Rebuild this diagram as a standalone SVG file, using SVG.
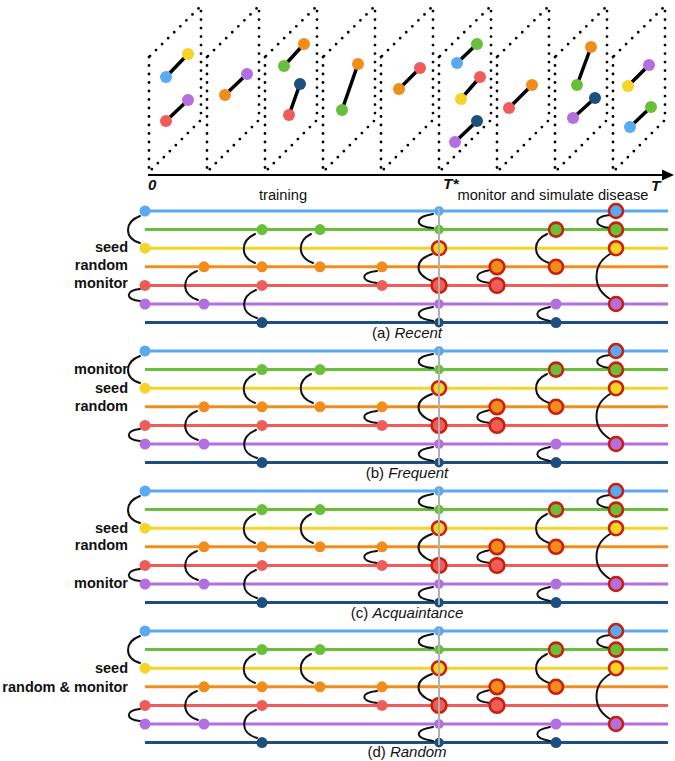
<svg xmlns="http://www.w3.org/2000/svg" xmlns:xlink="http://www.w3.org/1999/xlink" width="675" height="761" viewBox="0 0 675 761">
<style>
.dot{fill:none;stroke:#000;stroke-width:2.8;stroke-linecap:round;stroke-dasharray:0 8.5}
.edge{stroke:#000;stroke-width:3.5;stroke-linecap:round}
.ln{stroke-width:3;fill:none}
.arc{stroke:#111;stroke-width:2;fill:none;stroke-linecap:round}
.ring{stroke:#c8200c;stroke-width:2.6}
.lbl{font-family:"Liberation Sans",Arial,sans-serif;font-weight:bold;font-size:14.5px;fill:#111;text-anchor:end}
.cap{font-family:"Liberation Sans",Arial,sans-serif;font-size:15px;fill:#111;text-anchor:middle}
.tl{font-family:"Liberation Sans",Arial,sans-serif;font-size:14.7px;fill:#111;text-anchor:middle}
.ax{font-family:"Liberation Sans",Arial,sans-serif;font-weight:bold;font-style:italic;fill:#111}
.cb{fill:#59aaf2}.cg{fill:#6abf3a}.cy{fill:#f5d327}.co{fill:#f28c1c}.cr{fill:#ee5d5a}.cp{fill:#b36ee0}.cn{fill:#1d4e80}
</style>
<defs>
<g id="slice">
<path class="dot" d="M0 57 L0 172 L52 120 L52 6 Z"/>
</g>
<g id="panel">
<g id="lines">
<line class="ln" x1="145" y1="211" x2="668" y2="211" stroke="#59aaf2"/>
<line class="ln" x1="145" y1="229.6" x2="668" y2="229.6" stroke="#6abf3a"/>
<line class="ln" x1="145" y1="248.2" x2="668" y2="248.2" stroke="#f5d327"/>
<line class="ln" x1="145" y1="266.8" x2="668" y2="266.8" stroke="#f28c1c"/>
<line class="ln" x1="145" y1="285.4" x2="668" y2="285.4" stroke="#ee5d5a"/>
<line class="ln" x1="145" y1="304" x2="668" y2="304" stroke="#b36ee0"/>
<line class="ln" x1="145" y1="322.6" x2="668" y2="322.6" stroke="#1d4e80"/>
</g>
<g id="contacts">
<path class="arc" d="M140 216 C124 222 124 238 140 243"/>
<path class="arc" d="M140 289 C125 290 125 300 140 301"/>
<path class="arc" d="M197 271 C181 277 181 295 198 300"/>
<path class="arc" d="M255 234 C240 241 240 257 255 263"/>
<path class="arc" d="M256 290 C240 297 240 313 257 318"/>
<path class="arc" d="M311 234 C297 241 297 257 313 263"/>
<path class="arc" d="M377 271 C360 273 360 281 377 283"/>
<path class="arc" d="M433 214 C414 217 414 226 433 228"/>
<path class="arc" d="M432 254 C414 260 414 274 432 281"/>
<path class="arc" d="M433 307 C414 310 414 318 433 321"/>
<path class="arc" d="M490 270 C473 273 473 281 490 283"/>
<path class="arc" d="M547 234 C532 241 532 257 549 263"/>
<path class="arc" d="M550 307 C533 310 533 318 550 321"/>
<path class="arc" d="M610 215 C593 217 593 226 610 228"/>
<path class="arc" d="M610 254 C592 265 592 288 610 299"/>
</g>
<g id="plain">
<circle class="cb" cx="145" cy="211" r="5.5"/>
<circle class="cy" cx="145" cy="248.2" r="5.5"/>
<circle class="cr" cx="145" cy="285.4" r="5.5"/>
<circle class="cp" cx="145" cy="304" r="5.5"/>
<circle class="co" cx="204" cy="266.8" r="5.5"/>
<circle class="cp" cx="204" cy="304" r="5.5"/>
<circle class="cg" cx="262" cy="229.6" r="5.5"/>
<circle class="co" cx="262" cy="266.8" r="5.5"/>
<circle class="cr" cx="262" cy="285.4" r="5.5"/>
<circle class="cn" cx="262" cy="322.6" r="5.5"/>
<circle class="cg" cx="320" cy="229.6" r="5.5"/>
<circle class="co" cx="320" cy="266.8" r="5.5"/>
<circle class="co" cx="382" cy="266.8" r="5.5"/>
<circle class="cr" cx="382" cy="285.4" r="5.5"/>
<circle class="cb" cx="439" cy="211" r="4.8"/>
<circle class="cg" cx="439" cy="229.6" r="4.8"/>
<circle class="cp" cx="439" cy="304" r="4.8"/>
<circle class="cn" cx="439" cy="322.6" r="4.8"/>
<circle class="cp" cx="556" cy="304" r="5.5"/>
<circle class="cn" cx="556" cy="322.6" r="5.5"/>
</g>
<g id="infected">
<circle class="cy ring" cx="439" cy="248.2" r="7"/>
<circle class="cr ring" cx="439" cy="285.4" r="7.4"/>
<circle class="co ring" cx="497" cy="266.8" r="7.3"/>
<circle class="cr ring" cx="497" cy="285.4" r="7.3"/>
<circle class="cg ring" cx="556" cy="229.6" r="7"/>
<circle class="co ring" cx="556" cy="266.8" r="7"/>
<circle class="cb ring" cx="616" cy="211" r="7"/>
<circle class="cg ring" cx="616" cy="229.6" r="7"/>
<circle class="cy ring" cx="616" cy="248.2" r="7"/>
<circle class="cp ring" cx="616" cy="304" r="7"/>
</g>
<line x1="439" y1="208" x2="439" y2="325" stroke="#b0b0b0" stroke-width="2"/>
</g>
</defs>

<g id="timeline">
<use xlink:href="#slice" x="149"/>
<use xlink:href="#slice" x="207"/>
<use xlink:href="#slice" x="265"/>
<use xlink:href="#slice" x="323"/>
<use xlink:href="#slice" x="381"/>
<use xlink:href="#slice" x="439"/>
<use xlink:href="#slice" x="497"/>
<use xlink:href="#slice" x="555"/>
<use xlink:href="#slice" x="613"/>
<line x1="148" y1="175" x2="664" y2="175" stroke="#000" stroke-width="2"/>
<polygon points="674,175 662,169.5 662,180.5" fill="#000"/>
<text class="ax" x="148" y="190" font-size="15">0</text>
<text class="ax" x="443" y="189" font-size="15.5">T*</text>
<text class="ax" x="651" y="191" font-size="15.5">T</text>
<text class="tl" x="283" y="200">training</text>
<text class="tl" x="553" y="200">monitor and simulate disease</text>
</g>

<g id="snapshot-edges">
<line class="edge" x1="166" y1="77" x2="188" y2="54"/>
<line class="edge" x1="166" y1="121" x2="188" y2="100"/>
<line class="edge" x1="225" y1="95" x2="247" y2="74"/>
<line class="edge" x1="284" y1="66" x2="304" y2="44"/>
<line class="edge" x1="289" y1="115" x2="300" y2="84"/>
<line class="edge" x1="342" y1="110" x2="358" y2="64"/>
<line class="edge" x1="399" y1="89" x2="420" y2="68"/>
<line class="edge" x1="457" y1="63" x2="477" y2="44"/>
<line class="edge" x1="461" y1="99" x2="480" y2="77"/>
<line class="edge" x1="455" y1="142" x2="477" y2="121"/>
<line class="edge" x1="509" y1="108" x2="532" y2="85"/>
<line class="edge" x1="577" y1="85" x2="591" y2="47"/>
<line class="edge" x1="573" y1="118" x2="595" y2="98"/>
<line class="edge" x1="628" y1="86" x2="649" y2="65"/>
<line class="edge" x1="630" y1="127" x2="651" y2="107"/>
</g>
<g id="snapshot-nodes">
<circle class="cb" cx="166" cy="77" r="6"/><circle class="cy" cx="188" cy="54" r="6"/>
<circle class="cr" cx="166" cy="121" r="6"/><circle class="cp" cx="188" cy="100" r="6"/>
<circle class="co" cx="225" cy="95" r="6"/><circle class="cp" cx="247" cy="74" r="6"/>
<circle class="cg" cx="284" cy="66" r="6"/><circle class="co" cx="304" cy="44" r="6"/>
<circle class="cr" cx="289" cy="115" r="6"/><circle class="cn" cx="300" cy="84" r="6"/>
<circle class="cg" cx="342" cy="110" r="6"/><circle class="co" cx="358" cy="64" r="6"/>
<circle class="co" cx="399" cy="89" r="6"/><circle class="cr" cx="420" cy="68" r="6"/>
<circle class="cb" cx="457" cy="63" r="6"/><circle class="cg" cx="477" cy="44" r="6"/>
<circle class="cy" cx="461" cy="99" r="6"/><circle class="cr" cx="480" cy="77" r="6"/>
<circle class="cp" cx="455" cy="142" r="6"/><circle class="cn" cx="477" cy="121" r="6"/>
<circle class="cr" cx="509" cy="108" r="6"/><circle class="co" cx="532" cy="85" r="6"/>
<circle class="cg" cx="577" cy="85" r="6"/><circle class="co" cx="591" cy="47" r="6"/>
<circle class="cp" cx="573" cy="118" r="6"/><circle class="cn" cx="595" cy="98" r="6"/>
<circle class="cy" cx="628" cy="86" r="6"/><circle class="cp" cx="649" cy="65" r="6"/>
<circle class="cb" cx="630" cy="127" r="6"/><circle class="cg" cx="651" cy="107" r="6"/>
</g>

<g id="panel-a">
<use xlink:href="#panel"/>
<text class="lbl" x="128" y="252">seed</text>
<text class="lbl" x="128" y="270">random</text>
<text class="lbl" x="128" y="288">monitor</text>
<text class="cap" x="407" y="338">(a) <tspan font-style="italic">Recent</tspan></text>
</g>
<g id="panel-b">
<use xlink:href="#panel" y="140"/>
<text class="lbl" x="128" y="374">monitor</text>
<text class="lbl" x="128" y="393">seed</text>
<text class="lbl" x="128" y="411">random</text>
<text class="cap" x="407" y="478">(b) <tspan font-style="italic">Frequent</tspan></text>
</g>
<g id="panel-c">
<use xlink:href="#panel" y="280"/>
<text class="lbl" x="128" y="533">seed</text>
<text class="lbl" x="128" y="550">random</text>
<text class="lbl" x="128" y="588">monitor</text>
<text class="cap" x="407" y="618">(c) <tspan font-style="italic">Acquaintance</tspan></text>
</g>
<g id="panel-d">
<use xlink:href="#panel" y="420"/>
<text class="lbl" x="128" y="673">seed</text>
<text class="lbl" x="128" y="692">random &amp; monitor</text>
<text class="cap" x="407" y="757">(d) <tspan font-style="italic">Random</tspan></text>
</g>
</svg>
